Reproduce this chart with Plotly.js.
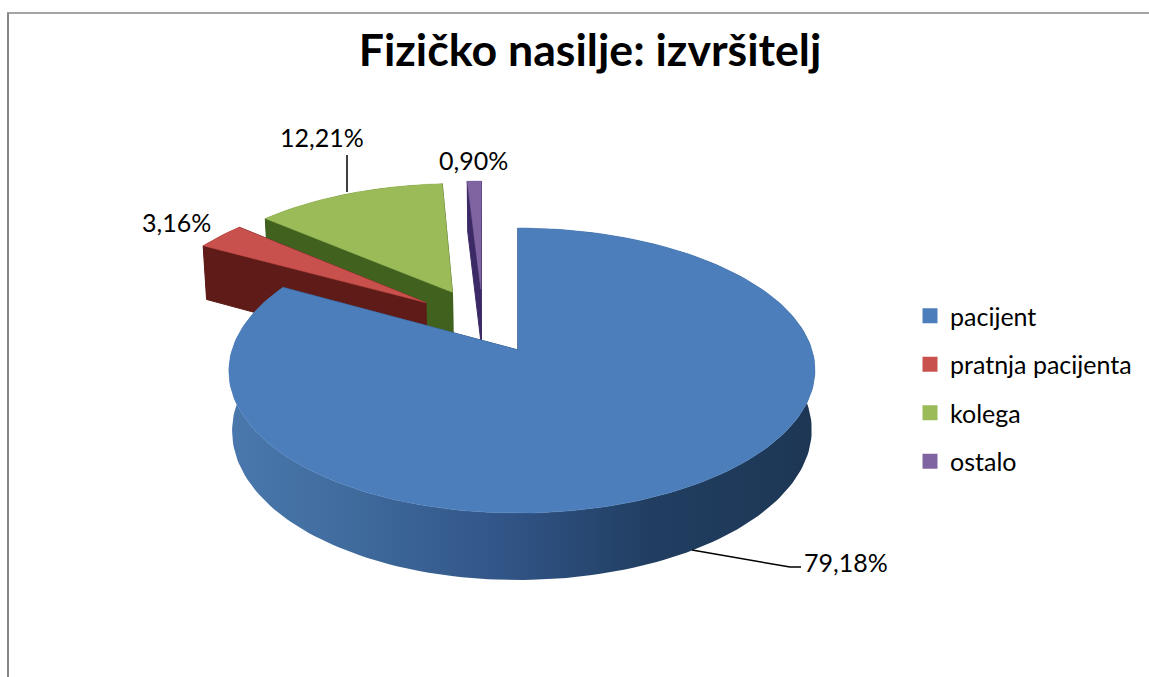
<!DOCTYPE html>
<html>
<head>
<meta charset="utf-8">
<script src="https://cdn.plot.ly/plotly-3.0.1.min.js"></script>
<style>html,body{margin:0;padding:0;background:#fff;}#chart{width:1149px;height:677px;}</style>
</head>
<body>
<div id="chart"></div>
<script>
// ---- data ----
const categories = ['pacijent', 'pratnja pacijenta', 'kolega', 'ostalo'];
const percents = [79.18, 3.16, 12.21, 0.90];
const chartTitle = 'Fizičko nasilje: izvršitelj';

// ---- styles ----
const topColors = ['#4c7ebb', '#c8504d', '#9bbb59', '#8064a2'];
const edgeColors = ['#2f4f7c', '#5e1b17', '#41621f', '#3c2a66'];
const blueWall = [[0, '#4a78ad'], [0.22, '#3f6a9c'], [0.5, '#2f5283'], [0.72, '#213e61'], [1, '#1d3654']];

// ---- projection of the tilted pie (pixel-ranged axes) ----
const proj = {ax: 518, ay: 350, R: 290, S: 139.6, k: 0.144, depth: 58.8, shrink: 0.011, pull: 0.25, bulge: 4, skew: 2};
function project(u, v, h, idx) {
  const s = 1 - h * proj.shrink, w = 1 + proj.k * v;
  const dx = idx === 0 ? proj.bulge * u * u : -proj.skew * v * v;
  return [proj.ax + dx + proj.R * s * u / w, proj.ay + (proj.depth * h - proj.S * s * v) / w];
}
const total = percents.reduce((a, b) => a + b, 0);
const dirOf = d => [Math.sin(d * Math.PI / 180), Math.cos(d * Math.PI / 180)];
let acc = 0;
const slices = percents.map((p, i) => {
  const a0 = acc / total * 360; acc += p; const a1 = acc / total * 360;
  return {i, a0, a1, mid: (a0 + a1) / 2};
});
const cDir = dirOf(slices[0].mid);
const centre = [-proj.pull * cDir[0], -proj.pull * cDir[1]];

function polyTrace(pts, color, lineW, extra) {
  return Object.assign({
    type: 'scatter', mode: 'lines', x: pts.map(p => p[0]), y: pts.map(p => p[1]),
    fill: 'toself', fillcolor: color, line: {color: color, width: lineW},
    showlegend: false, hoverinfo: 'skip'
  }, extra || {});
}

const traces = [];
[3, 2, 1, 0].forEach(idx => {
  const s = slices[idx], d = dirOf(s.mid);
  const ap = [centre[0] + proj.pull * d[0], centre[1] + proj.pull * d[1]];
  const steps = Math.max(6, Math.ceil((s.a1 - s.a0) / 1.5));
  const arc = [];
  for (let j = 0; j <= steps; j++) {
    const q = dirOf(s.a0 + (s.a1 - s.a0) * j / steps);
    arc.push([ap[0] + q[0], ap[1] + q[1]]);
  }
  const at = (p, h) => project(p[0], p[1], h, idx);
  // outer wall
  const wall = arc.map(p => at(p, 0)).concat(arc.slice().reverse().map(p => at(p, 1)));
  wall.push(wall[0]);
  traces.push(polyTrace(wall, edgeColors[idx], 0, idx === 0 ? {fillgradient: {type: 'horizontal', colorscale: blueWall}} : {}));
  // radial walls
  [arc[0], arc[arc.length - 1]].forEach(e => {
    traces.push(polyTrace([at(ap, 0), at(e, 0), at(e, 1), at(ap, 1), at(ap, 0)], edgeColors[idx], 1));
  });
  // top face
  const top = [at(ap, 0)].concat(arc.map(p => at(p, 0)));
  top.push(top[0]);
  traces.push(polyTrace(top, topColors[idx], 0.5));
});

// leader lines
const leaders = [
  {x: [692, 790, 801], y: [550, 567, 567]},
  {x: [347, 347], y: [155, 192]}
];
leaders.forEach(l => traces.push({type: 'scatter', mode: 'lines', x: l.x, y: l.y,
  line: {color: '#000', width: 1.5}, showlegend: false, hoverinfo: 'skip'}));

// legend entries
categories.forEach((c, i) => traces.push({
  type: 'scatter', mode: 'markers', x: [null], y: [null], name: c, legendgroup: c,
  marker: {symbol: 'square', size: 15, color: topColors[i]}, hoverinfo: 'skip'
}));

const fmt = v => v.toFixed(2).replace('.', ',') + '%';
const labelPos = [[846, 562], [176, 222], [322, 137], [473, 160]];
const fontFam = 'Lato, "Open Sans", sans-serif';

const layout = {
  width: 1149, height: 677, margin: {l: 0, r: 0, t: 0, b: 0},
  paper_bgcolor: '#fff', plot_bgcolor: '#fff',
  xaxis: {range: [0, 1149], visible: false, fixedrange: true},
  yaxis: {range: [677, 0], visible: false, fixedrange: true},
  title: {text: '<b>' + chartTitle + '</b>', x: 590 / 1149, xanchor: 'center', y: 1 - 50 / 677, yanchor: 'middle',
    font: {family: fontFam, size: 44.7, color: '#000'}},
  font: {family: fontFam, color: '#000'},
  legend: {x: 910 / 1149, y: 1 - 293 / 677, xanchor: 'left', yanchor: 'top',
    font: {family: fontFam, size: 25, color: '#000'}, traceorder: 'grouped', tracegroupgap: 13,
    itemwidth: 30, bgcolor: 'rgba(0,0,0,0)'},
  annotations: percents.map((v, i) => ({
    x: labelPos[i][0], y: labelPos[i][1], xref: 'x', yref: 'y', text: fmt(v), showarrow: false,
    xanchor: 'center', yanchor: 'middle', font: {family: fontFam, size: 25, color: '#000'}
  })),
  shapes: [
    {type: 'line', xref: 'x', yref: 'y', x0: 8, x1: 8, y0: 13, y1: 677, line: {color: '#868686', width: 2}},
    {type: 'line', xref: 'x', yref: 'y', x0: 7, x1: 1149, y0: 13, y1: 13, line: {color: '#868686', width: 1.5}}
  ]
};
Plotly.newPlot('chart', traces, layout, {displayModeBar: false, staticPlot: true});
</script>
</body>
</html>
